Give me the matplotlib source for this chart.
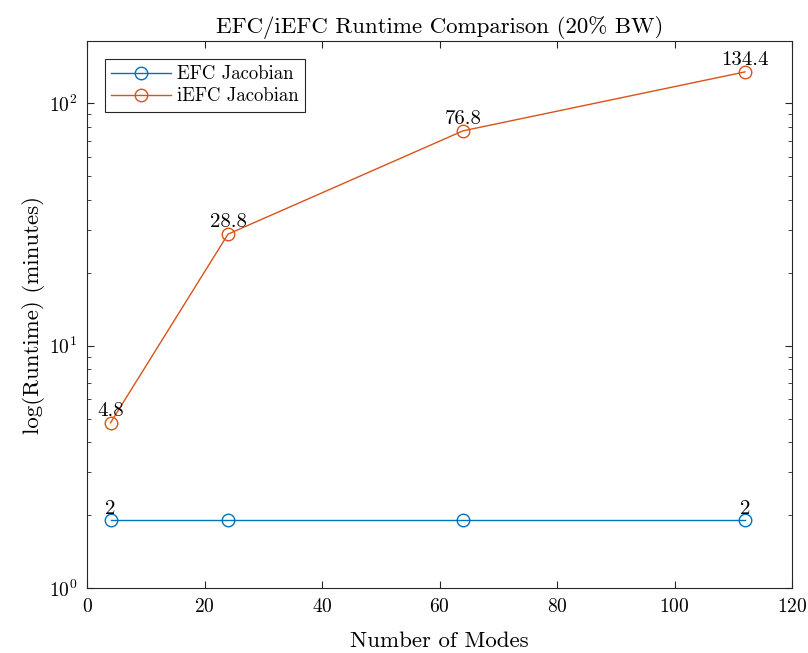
import matplotlib
matplotlib.use("Agg")
import matplotlib.pyplot as plt
from matplotlib.ticker import LogLocator, NullFormatter

plt.rcParams['font.family'] = ['cmr10', 'DejaVu Serif']
plt.rcParams['mathtext.fontset'] = 'cm'
plt.rcParams['axes.formatter.use_mathtext'] = True

modes = [4, 24, 64, 112]
efc_runtime = [1.9, 1.9, 1.9, 1.9]
efc_labels = ['2', '', '', '2']
iefc_runtime = [4.8, 28.8, 76.8, 134.4]
iefc_labels = ['4.8', '28.8', '76.8', '134.4']

blue = '#0072BD'
orange = '#D95319'

fig = plt.figure(figsize=(8.08, 6.53), dpi=100)
ax = fig.add_axes([0.1077, 0.0995, 0.8725, 0.8375])

ax.plot(modes, efc_runtime, '-o', color=blue, lw=1.0, ms=9, mfc='none',
        mew=1.0, label='EFC Jacobian')
ax.plot(modes, iefc_runtime, '-o', color=orange, lw=1.0, ms=9, mfc='none',
        mew=1.0, label='iEFC Jacobian')

for x, y, t in zip(modes, efc_runtime, efc_labels):
    if t:
        ax.annotate(t, (x, y), xytext=(0, 2), textcoords='offset points',
                    ha='center', va='bottom', fontsize=15)
for x, y, t in zip(modes, iefc_runtime, iefc_labels):
    ax.annotate(t, (x, y), xytext=(0, 2), textcoords='offset points',
                ha='center', va='bottom', fontsize=15)

ax.set_yscale('log')
ax.set_xlim(0, 120)
ax.set_ylim(1, 180)
ax.set_xticks([0, 20, 40, 60, 80, 100, 120])
ax.yaxis.set_major_locator(LogLocator(base=10))
ax.yaxis.set_minor_locator(LogLocator(base=10, subs=range(2, 10)))
ax.yaxis.set_minor_formatter(NullFormatter())
ax.tick_params(which='both', direction='in', top=True, right=True,
               labelsize=14, color='#262626', pad=7)
ax.tick_params(which='major', length=5)
ax.tick_params(which='minor', length=3)
for s in ax.spines.values():
    s.set_color('#262626')
    s.set_linewidth(0.8)

ax.set_xlabel('Number of Modes', fontsize=16.5, labelpad=11)
ax.set_ylabel('log(Runtime) (minutes)', fontsize=16.5, labelpad=3)
ax.set_title('EFC/iEFC Runtime Comparison (20% BW)', fontsize=16.5, pad=6)

leg = ax.legend(loc='upper left', fontsize=13.5, fancybox=False, framealpha=1,
                edgecolor='#262626', borderaxespad=0.95, handlelength=3.2,
                handletextpad=0.3, borderpad=0.35, labelspacing=0.2)
leg.get_frame().set_linewidth(0.8)

fig.savefig('out.png', dpi=100)
